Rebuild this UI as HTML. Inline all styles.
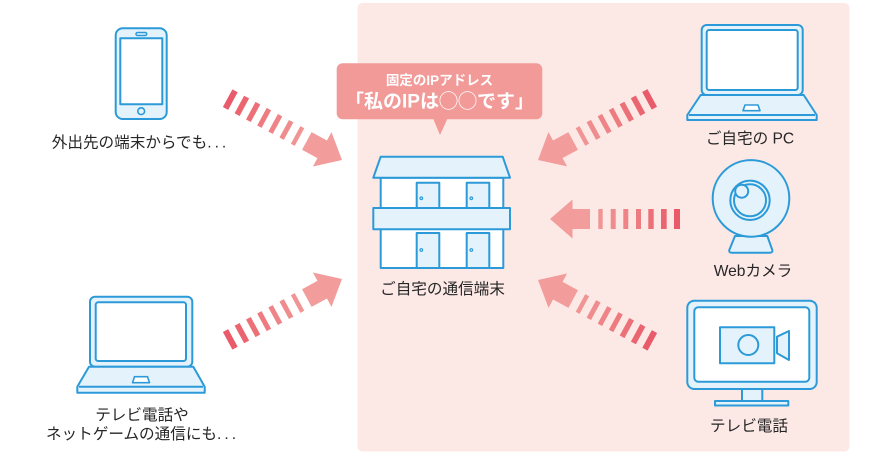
<!DOCTYPE html>
<html><head><meta charset="utf-8"><style>
html,body{margin:0;padding:0;background:#fff;}
svg{display:block;}
text{font-family:"Liberation Sans","Noto Sans CJK JP",sans-serif;}
</style></head><body>
<svg width="886" height="456" viewBox="0 0 886 456" xmlns="http://www.w3.org/2000/svg">
<defs>
<g id="arr">
<polygon points="0,0 -22.5,-19.5 -22.5,19.5" fill="#f29c9b"/>
<rect x="-40" y="-10" width="18" height="20" fill="#f29c9b"/>
<rect x="-52.7" y="-10" width="4.4" height="20" fill="#f09494"/>
<rect x="-65.7" y="-10" width="5" height="20" fill="#ef8d8e"/>
<rect x="-78.3" y="-10" width="5" height="20" fill="#ee8487"/>
<rect x="-91" y="-10" width="5" height="20" fill="#ed7b80"/>
<rect x="-103.7" y="-10" width="5.4" height="20" fill="#ec7078"/>
<rect x="-116.7" y="-10" width="5.7" height="20" fill="#eb6571"/>
<rect x="-130" y="-10" width="6" height="20" fill="#e95a6a"/>
</g>
</defs>
<rect width="886" height="456" fill="#fff"/>
<rect x="357.5" y="3" width="492" height="448.5" rx="5" fill="#fce9e6"/>

<!-- arrows -->
<use href="#arr" transform="translate(342,160) rotate(28.4)"/>
<use href="#arr" transform="translate(342,279) rotate(-28.4)"/>
<use href="#arr" transform="translate(538,160) rotate(151.5)"/>
<use href="#arr" transform="translate(538,280) rotate(-151.6)"/>
<use href="#arr" transform="translate(550,219) rotate(180)"/>

<!-- bubble -->
<rect x="336.7" y="63.3" width="205.6" height="56" rx="6" fill="#f19a98"/>
<polygon points="433.3,119 447.3,119 440,135" fill="#f19a98"/>
<text x="439.5" y="85" font-size="13.5" font-weight="bold" fill="#fff" text-anchor="middle">固定のIPアドレス</text>
<text x="439.5" y="107.5" font-size="19" font-weight="bold" fill="#fff" text-anchor="middle">「私のIPは◯◯です」</text>

<g stroke="#2c9ad8" stroke-width="2" stroke-linejoin="round" fill="#e4f3fb">
<!-- house -->
<rect x="380.7" y="177.7" width="122.6" height="90.3" fill="#fff"/>
<polygon points="380.7,156.7 502.7,156.7 510,177.7 373.3,177.7"/>
<rect x="416.7" y="182.7" width="22.6" height="25.3"/>
<rect x="466.7" y="182.7" width="22.6" height="25.3"/>
<rect x="416.7" y="233" width="22.6" height="35"/>
<rect x="466.7" y="233" width="22.6" height="35"/>
<rect x="373.3" y="208" width="136.7" height="21.3"/>
<circle cx="421.3" cy="198.3" r="1.3" stroke-width="1.2"/>
<circle cx="471.3" cy="198.3" r="1.3" stroke-width="1.2"/>
<circle cx="421.3" cy="250" r="1.3" stroke-width="1.2"/>
<circle cx="471.3" cy="250" r="1.3" stroke-width="1.2"/>

<!-- phone -->
<rect x="115.7" y="28.3" width="51" height="90.7" rx="7"/>
<rect x="120.3" y="38.3" width="42" height="66" fill="#fff"/>
<rect x="136" y="32.5" width="10.7" height="3" rx="1.5" stroke-width="1.5"/>
<circle cx="141.2" cy="111.2" r="3.4" stroke-width="1.6"/>

<!-- laptop bottom-left -->
<rect x="90" y="296.7" width="102.3" height="70" rx="5"/>
<rect x="95.7" y="302.3" width="90.3" height="58.7" rx="2.5" fill="#fff"/>
<polygon points="89,366.7 193.3,366.7 204.7,386.7 204.7,392.7 77.3,392.7 77.3,386.7"/>
<line x1="79" y1="386.7" x2="203" y2="386.7"/>
<polygon points="134.5,376.7 147.5,376.7 149.5,382.7 132.5,382.7" fill="#fff" stroke-width="1.6"/>

<!-- laptop top-right -->
<rect x="701.7" y="25" width="101" height="70" rx="5"/>
<rect x="706.7" y="30" width="91" height="60" rx="2.5" fill="#fff"/>
<polygon points="700.7,95 803.7,95 816.7,115 816.7,120 687.3,120 687.3,115"/>
<line x1="689" y1="115" x2="815" y2="115"/>
<polygon points="745,105 758,105 760,110.7 743,110.7" fill="#fff" stroke-width="1.6"/>

<!-- webcam -->
<path d="M735,236 L767.3,236 L772.3,250 Q772.8,252.7 770,252.7 L731.6,252.7 Q728.8,252.7 729.3,250 Z"/>
<circle cx="751" cy="198.4" r="38.3"/>
<circle cx="750" cy="200.3" r="19.7"/>
<circle cx="750" cy="200.3" r="16"/>
<circle cx="741.7" cy="191.2" r="6.5"/>

<!-- TV -->
<rect x="742" y="389" width="20.3" height="12"/>
<rect x="715" y="401" width="73.3" height="4.5"/>
<rect x="687.3" y="300.7" width="129.4" height="88.3" rx="7"/>
<rect x="694.3" y="307.3" width="115" height="74.4" rx="4" fill="#fff"/>
<rect x="720" y="327.3" width="54.3" height="36"/>
<circle cx="748.3" cy="345" r="10"/>
<polygon points="777,336.7 789,331 789,360 777,353.3"/>
</g>

<!-- labels -->
<g font-size="15.6" fill="#262626" text-anchor="middle">
<text x="140.5" y="147.3">外出先の端末からでも<tspan letter-spacing="3">...</tspan></text>
<text x="442.5" y="293.8">ご自宅の通信端末</text>
<text x="142" y="419.8">テレビ電話や</text>
<text x="142.5" y="438.8">ネットゲームの通信にも<tspan letter-spacing="3">...</tspan></text>
<text x="750" y="143.3">ご自宅の PC</text>
<text x="753" y="275.8">Webカメラ</text>
<text x="749" y="430.8">テレビ電話</text>
</g>
</svg>
</body></html>
